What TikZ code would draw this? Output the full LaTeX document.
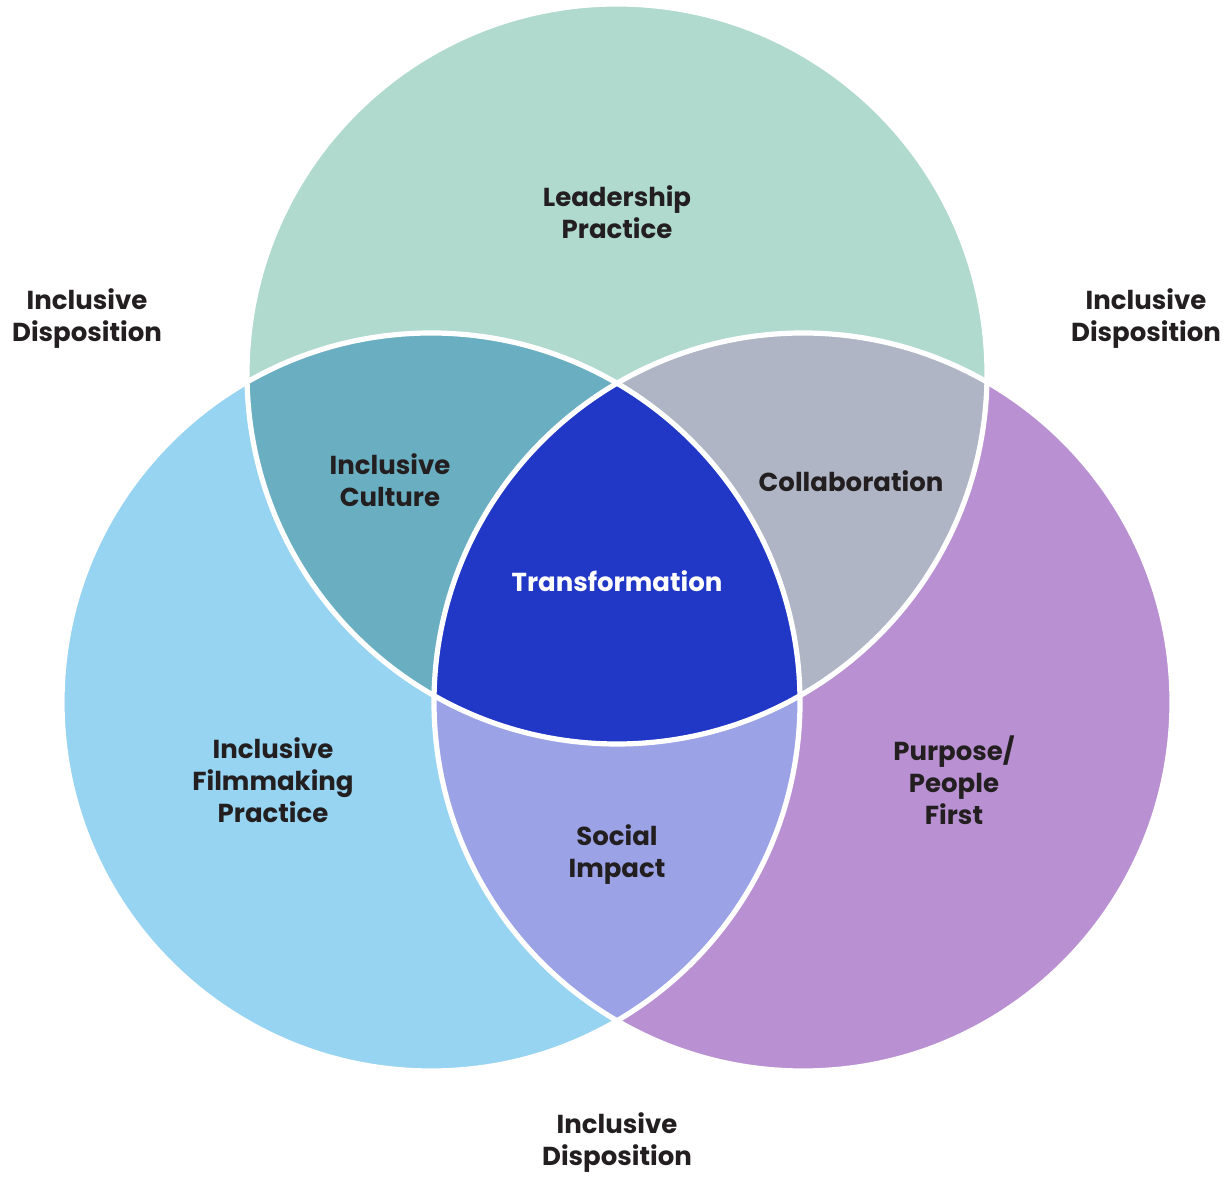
\documentclass[tikz,border=0pt]{standalone}
\usepackage{fontspec}
\setmainfont{Poppins}
\definecolor{topc}{HTML}{B0DACE}
\definecolor{leftc}{HTML}{96D4F2}
\definecolor{rightc}{HTML}{B991D3}
\definecolor{tlc}{HTML}{6AAFC1}
\definecolor{trc}{HTML}{AFB5C4}
\definecolor{lrc}{HTML}{9BA3E6}
\definecolor{allc}{HTML}{2137C6}
\definecolor{txt}{HTML}{231F20}
\begin{document}
\begin{tikzpicture}[x=0.5pt,y=0.5pt,
  lbl/.style={align=center,font=\fontsize{13}{16}\selectfont\bfseries,text=txt,inner sep=0pt},
  ring/.style={draw=white,line width=2.6pt}]
\useasboundingbox (0,0) rectangle (1224,1176);
% circle centres (image y flipped)
\coordinate (T) at (617,802);
\coordinate (L) at (431,474);
\coordinate (R) at (803,474);
\def\rt{370}
\def\rl{369}
% base fills
\fill[topc] (T) circle (\rt);
\fill[leftc] (L) circle (\rl);
\fill[rightc] (R) circle (\rl);
% pairwise
\begin{scope}\clip (T) circle (\rt); \fill[tlc] (L) circle (\rl); \end{scope}
\begin{scope}\clip (T) circle (\rt); \fill[trc] (R) circle (\rl); \end{scope}
\begin{scope}\clip (L) circle (\rl); \fill[lrc] (R) circle (\rl); \end{scope}
\begin{scope}\clip (T) circle (\rt); \clip (L) circle (\rl); \fill[allc] (R) circle (\rl); \end{scope}
% white outlines
\draw[ring] (T) circle (\rt);
\draw[ring] (L) circle (\rl);
\draw[ring] (R) circle (\rl);
% labels
\node[lbl] (lead) at (617,964) {Leadership\\Practice};
\node[lbl] (dl) at (87,857) {Inclusive\\Disposition};
\node[lbl] (dr) at (1146,857) {Inclusive\\Disposition};
\node[lbl] (db) at (617,33) {Inclusive\\Disposition};
\node[lbl] (cult) at (390,696) {Inclusive\\Culture};
\node[lbl] (coll) at (851,695) {Collaboration};
\node[lbl,text=white] (trans) at (617,595) {Transformation};
\node[lbl] (film) at (273,396) {Inclusive\\Filmmaking\\Practice};
\node[lbl] (purp) at (954,396) {Purpose/\\People\\First};
\node[lbl] (soc) at (617,321) {Social\\Impact};
\end{tikzpicture}
\end{document}
